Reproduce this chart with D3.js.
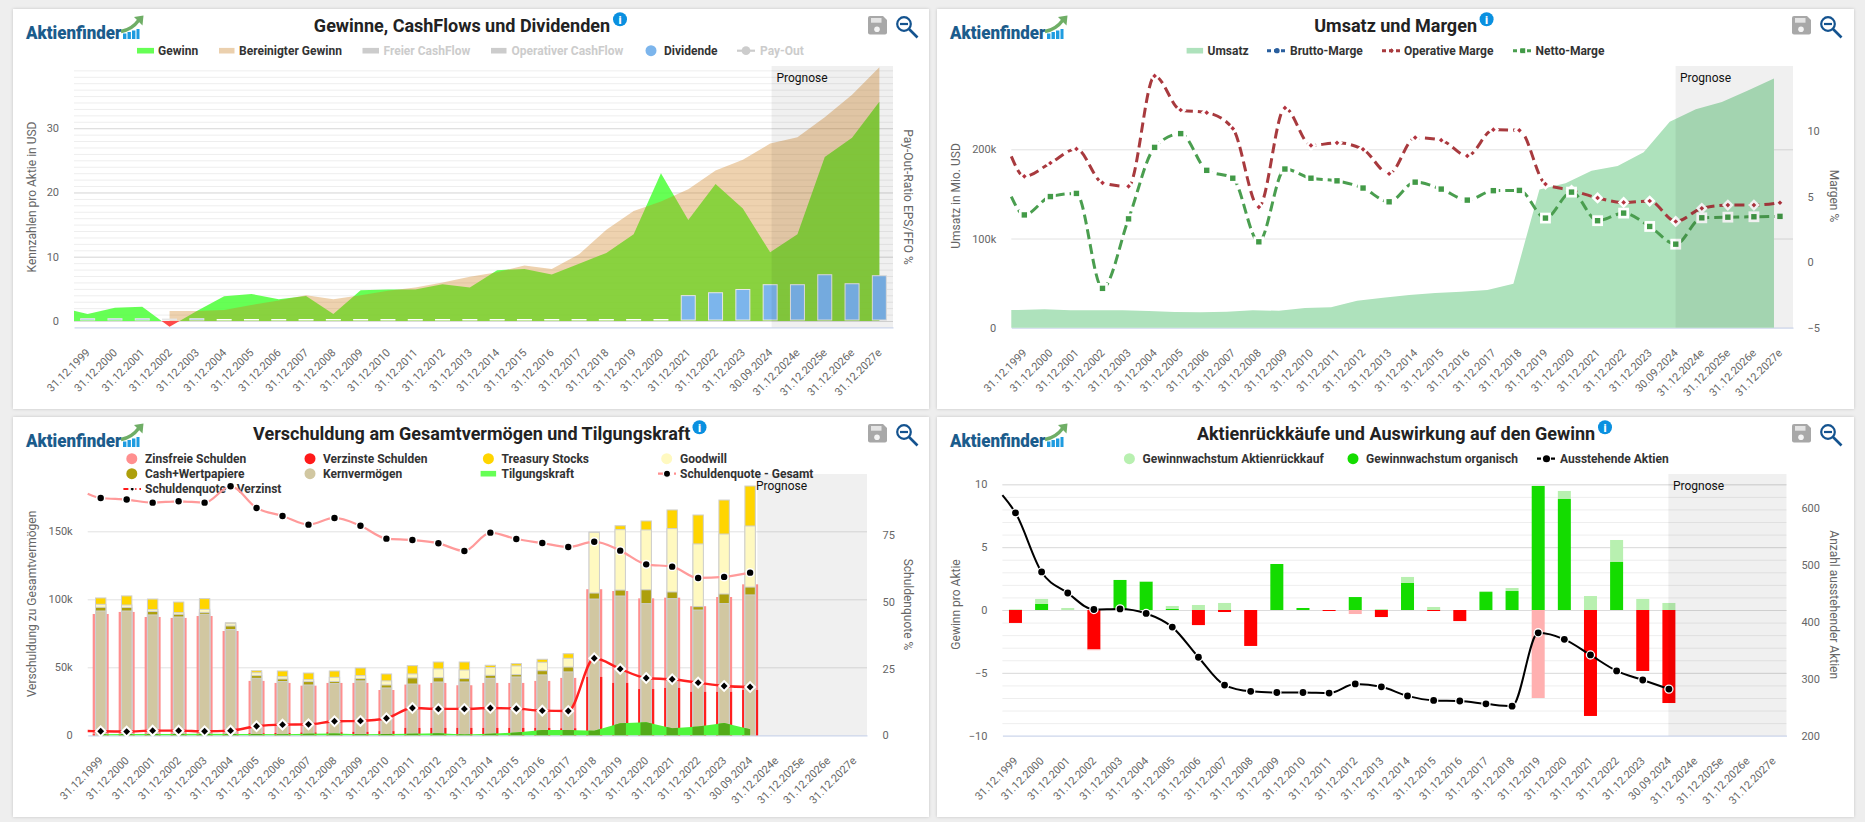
<!DOCTYPE html>
<html><head><meta charset="utf-8">
<script src="https://cdn.jsdelivr.net/npm/d3@7/dist/d3.min.js"></script>
<style>html,body{margin:0;padding:0;background:#eee;overflow:hidden}svg{display:block}text{font-family:Roboto,sans-serif}</style>
</head><body><div id="c"></div>
<script>
const categories=["31.12.1999","31.12.2000","31.12.2001","31.12.2002","31.12.2003","31.12.2004","31.12.2005","31.12.2006","31.12.2007","31.12.2008","31.12.2009","31.12.2010","31.12.2011","31.12.2012","31.12.2013","31.12.2014","31.12.2015","31.12.2016","31.12.2017","31.12.2018","31.12.2019","31.12.2020","31.12.2021","31.12.2022","31.12.2023","30.09.2024","31.12.2024e","31.12.2025e","31.12.2026e","31.12.2027e"];
// Chart 1
const gewinnStart=1.6;
const gewinn=[1.1,2.07,2.2,-0.9,1.55,3.85,4.2,3.4,3.9,1.1,4.8,4.9,4.9,5.7,5.2,7.9,8.1,7.25,8.9,10.6,13.5,23,15.7,21.3,17.5,10.7,13.5,25.5,28.5,34.1];
const bereinigt=[null,null,null,1.55,1.55,1.7,2.5,3.2,4.0,3.4,4.0,4.7,5.2,6.0,6.9,7.6,8.65,8.1,10.4,14.2,17.1,18.6,20.5,23.4,25.1,27.6,28.6,31.7,35.2,39.5];
const dividende=[0.36,0.36,0.36,0.3,0.36,0,0,0,0,0,0,0,0,0,0,0,0,0,0,0,0,0,3.95,4.4,4.9,5.65,5.65,7.2,5.8,7.05];
// Chart 2
const umsatzStart=19.8;
const umsatz=[19.8,20.6,19.5,19.5,19.5,18.7,17.6,17.2,18,19.5,19,22,22.8,30.3,33.7,36.7,38.9,40.4,42.3,49.4,155,162,176,181.4,196.8,231,245,253,266,279.5];
const operativStart=8.07;
const operativ=[6.54,7.56,8.63,6.05,5.78,14.2,11.6,11.4,10.2,4.2,11.76,8.9,9.1,8.6,6.74,9.5,9.3,8.1,10.1,10.05,5.95,5.47,4.9,4.55,4.66,3.1,4.1,4.35,4.35,4.53];
const nettoStart=5.0;
const netto=[3.6,5.0,5.24,-2,3.3,8.75,9.8,7.0,6.4,1.55,7.1,6.4,6.2,5.65,4.6,6.1,5.57,4.73,5.45,5.47,3.36,5.34,3.16,3.74,2.72,1.37,3.38,3.43,3.46,3.49];
// Chart 3
const schuldenGesamt=[89.2,90.7,87,86.3,87.7,76.7,40,38.5,36.5,38.5,38.5,33.3,37.3,38.5,36.8,38.5,38.5,40,42.2,107.4,106.1,100.7,101.2,94.9,101.7,111];
const verzinst=[0.7,0.7,1,1,0.8,1,1.5,1.7,2,2.2,2.5,3,5.4,5.4,5.4,5.4,5.4,5.4,5.1,42.9,38.5,34,34.8,31.9,31.9,33.3];
const kern=[91.4,91.4,88.5,87,89,77.7,41.9,39.5,37,38,40,34.8,37.7,39.2,39.2,41.9,42.9,44.4,46.6,100.2,102.4,96.8,100.5,92.1,96.8,103.2];
const cash=[94.1,94,91,89,90.4,80.4,43.9,41.4,39.5,39.5,41.7,37,42.2,42.4,41.7,44.1,44.6,47.5,50.2,104.6,106.8,107,105.4,94.6,103.9,109];
const goodwill=[96.3,95.8,92.4,90.2,92.6,82.1,46,43.1,40.9,42.6,43.9,40,45.1,48.8,48,49.8,51,53.7,56.6,149.2,151.2,151,152,140.7,148,153.9];
const treasury=[101,102.5,100.2,98,100.5,82.8,47.5,47.3,45.8,47.3,49.5,45.1,51.2,53.9,53.9,51.5,52.7,55.9,60,149.5,154.1,157.6,165.7,162,173,183.3];
const tilgung=[0.8,1,0.9,1,1.1,1,1,0.8,1.2,1.3,0.7,1,1.1,1.5,0.5,1.2,2,3.9,3.9,3.4,8.8,9.6,5.1,6.4,9,4.4];
const quoteGesamtStart=90.6;
const quoteGesamt=[89,88.4,87.25,87.75,87.25,93.4,85.25,82.25,79,81.5,78.6,73.75,73.25,72,69.1,76,73.6,72.1,70.6,72.6,69.25,64.1,63.25,59,59.4,61];
const quoteVerzinstStart=1.6;
const quoteVerzinst=[1.5,1.4,1.75,1.75,1.5,1.75,3.4,4,4.1,5.25,5.4,6.4,10.25,9.9,9.9,10.25,10,9.25,9.1,28.9,24.9,21.5,21,19.75,18.5,18.1];
// Chart 4
const organisch=[-1.03,0.48,0,-3.13,2.39,2.25,0.08,-1.2,-0.16,-2.86,3.66,0.16,-0.08,1.03,-0.56,2.15,-0.08,-0.88,1.43,1.51,9.87,8.83,-8.43,3.82,-4.85,-7.4];
const rueckkauf=[0.05,0.4,0.16,-0.07,0,0.05,0.24,0.4,0.56,0,0,0,0,-0.32,0.08,0.48,0.24,0,0.08,0.24,-7,0.64,1.11,1.75,0.88,0.56];
const aktienStart=623;
const aktien=[592,488,451,422,423,415,391,338,289,278,276,276,275,291,286,270,262,261,256,252,381,369.5,342,314,298,282];

const svg=d3.select("#c").append("svg").attr("width",1865).attr("height",822).style("background","#eee");
const defs=svg.append("defs");
const f=defs.append("filter").attr("id","sh").attr("x","-2%").attr("y","-2%").attr("width","104%").attr("height","104%");
f.append("feDropShadow").attr("dx",0).attr("dy",0).attr("stdDeviation",1.5).attr("flood-color","#000").attr("flood-opacity",.18);
const LABEL="#666",LEG="#333",OFF="#ccc";
const DIA=d3.symbolDiamond2||d3.symbolDiamond;

function panel(dx,dy,w,title,titleX,infoX){
  const g=svg.append("g");
  g.append("rect").attr("x",13+dx).attr("y",9+dy).attr("width",w).attr("height",400).attr("fill","#fff").attr("filter","url(#sh)");
  const l=g.append("g").attr("transform",`translate(${dx},${dy})`);
  l.append("text").attr("x",26).attr("y",39).attr("font-size",19).attr("font-weight",900).attr("fill","#1b5c8c").attr("textLength",95.5).attr("lengthAdjust","spacingAndGlyphs").text("Aktienfinder");
  [[123,33.5,3.4],[127.5,32,3.4],[132,30.5,3.4],[136.5,29,3]].forEach(b=>l.append("rect").attr("x",b[0]).attr("y",b[1]).attr("width",b[2]).attr("height",39-b[1]).attr("fill","#1f9ce0"));
  l.append("path").attr("d","M121 31.5 Q132 29.5 139 20").attr("fill","none").attr("stroke","#6fae66").attr("stroke-width",3.4);
  l.append("path").attr("d","M134 17 L143.5 15.5 L142.5 25.5 Z").attr("fill","#6fae66");
  g.append("text").attr("x",titleX).attr("y",32+dy).attr("text-anchor","middle").attr("font-size",18).attr("font-weight",700).attr("fill","#222").text(title);
  g.append("circle").attr("cx",infoX).attr("cy",19.3+dy).attr("r",7).attr("fill","#0a90e0");
  g.append("text").attr("x",infoX).attr("y",23.5+dy).attr("text-anchor","middle").attr("font-size",11).attr("font-weight",900).attr("fill","#fff").text("i");
  const ic=g.append("g").attr("transform",`translate(${dx},${dy})`);
  ic.append("path").attr("d","M868 18 a2 2 0 0 1 2-2 h13 l4 4 v12.5 a2 2 0 0 1 -2 2 h-15 a2 2 0 0 1 -2-2 z").attr("fill","#a8a8a8");
  ic.append("rect").attr("x",871).attr("y",18).attr("width",10.5).attr("height",4.7).attr("fill","#e4e4e4");
  ic.append("circle").attr("cx",877).attr("cy",29.2).attr("r",2.8).attr("fill","#f4f4f4");
  ic.append("circle").attr("cx",904).attr("cy",24).attr("r",6.8).attr("fill","none").attr("stroke","#14538f").attr("stroke-width",2.2);
  ic.append("line").attr("x1",900).attr("x2",908).attr("y1",24).attr("y2",24).attr("stroke","#14538f").attr("stroke-width",2.2);
  ic.append("line").attr("x1",909).attr("y1",29).attr("x2",917.5).attr("y2",37.5).attr("stroke","#14538f").attr("stroke-width",2.6);
  return g;
}
function leg(g,x,y,label,color){
  g.append("text").attr("x",x).attr("y",y+4.2).attr("font-size",12).attr("font-weight",700).attr("fill",color||LEG).text(label);
}
function legRect(g,x,w,y,fill){g.append("rect").attr("x",x).attr("y",y-2.8).attr("width",w).attr("height",5.6).attr("fill",fill);}
function legCirc(g,x,y,fill){g.append("circle").attr("cx",x).attr("cy",y).attr("r",5.5).attr("fill",fill);}
function legLine(g,x1,x2,y,color,sym,sc,dash,w){
  g.append("line").attr("x1",x1).attr("x2",x2).attr("y1",y).attr("y2",y).attr("stroke",color).attr("stroke-width",w||2.2).attr("stroke-dasharray",dash||null);
  g.append("path").attr("transform",`translate(${(x1+x2)/2},${y})`).attr("d",d3.symbol().type(sym).size(sc.s)()).attr("fill",sc.f).attr("stroke","#fff").attr("stroke-width",sc.w);
}
function axes(g,o){
  const {L,R,T,B,x}=o;
  const gx=g.append("g").attr("transform",`translate(0,${B})`).call(d3.axisBottom(x).tickSize(0));
  gx.select(".domain").attr("stroke","#ccd6eb").attr("stroke-width",1.2);
  gx.selectAll("text").attr("font-family","Roboto").attr("font-size",11).attr("fill",LABEL).attr("text-anchor","end").attr("x",0).attr("y",0).attr("dy",0)
    .attr("transform","translate(3,26) rotate(-45)");
}
function gridAxis(g,y,L,R,values,color){
  const a=g.append("g").attr("transform",`translate(${L},0)`).call(d3.axisLeft(y).tickValues(values).tickSize(-(R-L)).tickFormat(""));
  a.select(".domain").remove();
  a.selectAll("line").attr("stroke",color).attr("stroke-width",1);
}
function labelAxisL(g,y,L,values,fmt){
  const a=g.append("g").attr("transform",`translate(${L-15},0)`).call(d3.axisLeft(y).tickValues(values).tickSize(0).tickPadding(0).tickFormat(fmt));
  a.select(".domain").remove();a.selectAll("line").remove();
  a.selectAll("text").attr("font-family","Roboto").attr("font-size",11).attr("fill",LABEL);
}
function labelAxisR(g,y,X,values){
  const a=g.append("g").attr("transform",`translate(${X},0)`).call(d3.axisRight(y).tickValues(values).tickSize(0).tickPadding(0));
  a.select(".domain").remove();a.selectAll("line").remove();
  a.selectAll("text").attr("font-family","Roboto").attr("font-size",11).attr("fill",LABEL);
}
function axTitle(g,x,y,rot,t){
  g.append("text").attr("transform",`translate(${x},${y}) rotate(${rot})`).attr("text-anchor","middle").attr("dominant-baseline","central").attr("font-size",12).attr("fill",LABEL).text(t);
}
function band(g,x1,x2,T,B,tx,ty){
  g.append("rect").attr("x",x1).attr("y",T).attr("width",x2-x1).attr("height",B-T).attr("fill","#000").attr("fill-opacity",.06);
  g.append("text").attr("x",tx).attr("y",ty+4).attr("font-size",12).attr("fill","#111").text("Prognose");
}
function clipRect(id,x,y,w,h){defs.append("clipPath").attr("id",id).append("rect").attr("x",x).attr("y",y).attr("width",w).attr("height",h);}
function series(startX,startV,xs,vals){
  const pts=vals.map((v,i)=>({x:xs(categories[i]),v}));
  if(startV!=null)pts.unshift({x:startX,v:startV});
  return pts;
}
function centers(x){const f=c=>x(c)+x.bandwidth()/2;return f;}

/* ---------- Chart 1 ---------- */
(function(){
  const g=panel(0,0,916,"Gewinne, CashFlows und Dividenden",462,620);
  const L=74,R=893,T=66,B=327.3;
  const x=d3.scaleBand().domain(categories).range([L,R]);const cx=centers(x);
  const y=d3.scaleLinear().domain([0,30]).range([321,128.2]);
  gridAxis(g,y,L,R,d3.range(0,40),"#eeeeee");
  gridAxis(g,y,L,R,[0,10,20,30],"#dcdcdc");
  axes(g,{L,R,T,B,x});
  labelAxisL(g,y,L,[0,10,20,30],d3.format("d"));
  axTitle(g,32,197,-90,"Kennzahlen pro Aktie in USD");
  axTitle(g,907.6,197,90,"Pay-Out-Ratio EPS/FFO %");
  const pts=series(L,gewinnStart,cx,gewinn);
  const ar=d3.area().x(d=>d.x).y0(y(0)).y1(d=>y(d.v));
  clipRect("c1up",L,T-5,R-L,y(0)-T+5);clipRect("c1dn",L,y(0),R-L,30);
  g.append("path").attr("d",ar(pts)).attr("fill","#4bff37").attr("fill-opacity",.85).attr("clip-path","url(#c1up)");
  g.append("path").attr("d",ar(pts)).attr("fill","#ff4a4a").attr("clip-path","url(#c1dn)");
  const pb=bereinigt.map((v,i)=>({x:cx(categories[i]),v})).filter(d=>d.v!=null);
  g.append("path").attr("d",ar(pb)).attr("fill","rgb(204,122,20)").attr("fill-opacity",.34);
  g.append("g").selectAll("rect").data(dividende).join("rect")
    .attr("x",(d,i)=>cx(categories[i])-7).attr("width",14)
    .attr("y",d=>y(d)-(d===0?1.5:0)).attr("height",d=>Math.max(0,y(0)-1-y(d))+(d===0?0.5:0))
    .attr("fill",d=>d===0?"#fff":"#7cb5ec").attr("stroke",d=>d===0?"#fff":"#e6e6e6").attr("stroke-width",1);
  band(g,771.6,R,T,B,776.5,77.7);
  const ly=50.7;
  legRect(g,137,17,ly,"#66ff55");leg(g,158,ly,"Gewinn");
  legRect(g,219,15.5,ly,"#ebd0ae");leg(g,239,ly,"Bereinigter Gewinn");
  legRect(g,362.5,16.5,ly,OFF);leg(g,383.5,ly,"Freier CashFlow",OFF);
  legRect(g,491,15.5,ly,OFF);leg(g,511.6,ly,"Operativer CashFlow",OFF);
  legCirc(g,651,ly,"#7cb5ec");leg(g,664,ly,"Dividende");
  legLine(g,737,755,ly,OFF,d3.symbolCircle,{s:60,f:OFF,w:0});leg(g,760,ly,"Pay-Out",OFF);
})();

/* ---------- Chart 2 ---------- */
(function(){
  const g=panel(924,0,917,"Umsatz und Margen",1395.6,1486.6);
  const L=1011.3,R=1793,T=66,B=327.7;
  const x=d3.scaleBand().domain(categories).range([L,R]);const cx=centers(x);
  const y=d3.scaleLinear().domain([0,200]).range([327.7,149.3]);
  const yr=d3.scaleLinear().domain([-5,10]).range([327.7,131]);
  gridAxis(g,y,L,R,[100,200],"#e2e2e2");
  axes(g,{L,R,T,B,x});
  labelAxisL(g,y,L,[0,100,200],d=>d?d+"k":"0");
  labelAxisR(g,yr,1807.4,[-5,0,5,10]);
  axTitle(g,956,196,-90,"Umsatz in Mio. USD");
  axTitle(g,1834,196,90,"Margen %");
  const off=-6;
  const pu=[{x:L,v:umsatzStart}].concat(umsatz.map((v,i)=>({x:cx(categories[i])+off,v})));
  g.append("path").attr("d",d3.area().x(d=>d.x).y0(y(0)).y1(d=>y(d.v))(pu)).attr("fill","#aee2bc");
  const ln=d3.line().x(d=>d.x).y(d=>yr(d.v)).curve(d3.curveMonotoneX);
  const po=series(L,operativStart,cx,operativ),pn=series(L,nettoStart,cx,netto);
  g.append("path").attr("d",ln(pn)).attr("fill","none").attr("stroke","#4a9e4f").attr("stroke-width",3).attr("stroke-dasharray","10,5");
  g.append("path").attr("d",ln(po)).attr("fill","none").attr("stroke","#a83a3e").attr("stroke-width",3).attr("stroke-dasharray","10,5");
  g.append("g").selectAll("path").data(operativ).join("path").attr("transform",(d,i)=>`translate(${cx(categories[i])},${yr(d)})`)
    .attr("d",d3.symbol().type(DIA).size(14)()).attr("fill","#b3333f").attr("stroke","#fff").attr("stroke-width",5).attr("paint-order","stroke");
  g.append("g").selectAll("rect").data(netto).join("rect").attr("x",(d,i)=>cx(categories[i])-2.7).attr("y",d=>yr(d)-2.7).attr("width",5.4).attr("height",5.4)
    .attr("fill","#429a47").attr("stroke","#fff").attr("stroke-width",5.4).attr("paint-order","stroke");
  band(g,1675.6,R,T,B,1680,77.7);
  const ly=50.7;
  legRect(g,1186.6,16.5,ly,"#aee2bc");leg(g,1207.5,ly,"Umsatz");
  legLine(g,1267,1287,ly,"#2a5f9e",d3.symbolCircle,{s:22,f:"#2a5f9e",w:0},"4,3",3);leg(g,1290,ly,"Brutto-Marge");
  legLine(g,1382,1401,ly,"#a83a3e",DIA,{s:14,f:"#a83a3e",w:0},"4,3",3);leg(g,1404,ly,"Operative Marge");
  legLine(g,1513,1532.5,ly,"#4a9e4f",d3.symbolSquare,{s:24,f:"#429a47",w:0},"4,3",3);leg(g,1535.5,ly,"Netto-Marge");
})();

/* ---------- Chart 3 ---------- */
(function(){
  const g=panel(0,408,916,"Verschuldung am Gesamtvermögen und Tilgungskraft",471.7,699.5);
  const L=87.7,R=867,T=474,B=735.3;
  const x=d3.scaleBand().domain(categories).range([L,R]);const cx=centers(x);
  const y=d3.scaleLinear().domain([0,150]).range([735.3,531.3]);
  const yr=d3.scaleLinear().domain([0,75]).range([735.3,535.3]);
  gridAxis(g,y,L,R,[50,100,150],"#e2e2e2");
  axes(g,{L,R,T,B,x});
  labelAxisL(g,y,L,[0,50,100,150],d=>d?d+"k":"0");
  labelAxisR(g,yr,882.5,[0,25,50,75]);
  axTitle(g,32,604,-90,"Verschuldung zu Gesamtvermögen");
  axTitle(g,907.6,604.5,90,"Schuldenquote %");
  const rows=[458.7,473.7,489];
  legCirc(g,131.8,rows[0],"#ff8f8f");leg(g,145,rows[0],"Zinsfreie Schulden");
  legCirc(g,310,rows[0],"#ff1a1a");leg(g,323,rows[0],"Verzinste Schulden");
  legCirc(g,488.4,rows[0],"#ffd500");leg(g,501.5,rows[0],"Treasury Stocks");
  legCirc(g,666.7,rows[0],"#fff9c0");leg(g,680,rows[0],"Goodwill");
  legCirc(g,131.8,rows[1],"#ad9f0b");leg(g,145,rows[1],"Cash+Wertpapiere");
  legCirc(g,310,rows[1],"#d1c7a1");leg(g,323,rows[1],"Kernvermögen");
  legRect(g,480.6,15.5,rows[1],"#66ff55");leg(g,501.5,rows[1],"Tilgungskraft");
  legLine(g,658,676,rows[1],"#ff8f8f",d3.symbolCircle,{s:40,f:"#000",w:1.2},"5,3");leg(g,680,rows[1],"Schuldenquote - Gesamt");
  legLine(g,123.4,141,rows[2],"#ff1a1a",DIA,{s:18,f:"#000",w:1.2},"5,3");leg(g,145,rows[2],"Schuldenquote - Verzinst");
  const wide=16,nar=10.4;
  const bars=g.append("g");
  bars.selectAll(".p").data(schuldenGesamt).join("rect").attr("x",(d,i)=>cx(categories[i])-wide/2).attr("width",wide).attr("y",d=>y(d)).attr("height",d=>y(0)-y(d)).attr("fill","#ff8f8f");
  bars.selectAll(".r").data(verzinst).join("rect").attr("x",(d,i)=>cx(categories[i])-wide/2).attr("width",wide).attr("y",d=>y(d)).attr("height",d=>y(0)-y(d)).attr("fill","#ff1f1f");
  const stack=[[treasury,"#ffd500"],[goodwill,"#fff9c0"],[cash,"#ad9f0b"],[kern,"#d1c7a1"]];
  stack.forEach(s=>{
    bars.append("g").selectAll("rect").data(s[0]).join("rect").attr("x",(d,i)=>cx(categories[i])-nar/2).attr("width",nar).attr("y",d=>y(d)).attr("height",d=>y(0)-y(d)).attr("fill",s[1]).attr("stroke","#cfcfcf").attr("stroke-width",1);
  });
  const pt=tilgung.map((v,i)=>({x:cx(categories[i]),v}));
  const aT=d3.area().x(d=>d.x).y0(y(0)).y1(d=>y(d.v))(pt);
  g.append("path").attr("d",aT).attr("fill","#50f63c");
  defs.append("clipPath").attr("id","c3t").append("path").attr("d",aT);
  g.append("g").attr("clip-path","url(#c3t)").selectAll("rect").data(kern).join("rect").attr("x",(d,i)=>cx(categories[i])-nar/2-.5).attr("width",nar+1).attr("y",d=>y(d)).attr("height",d=>y(0)-y(d)).attr("fill","#52ab1a");
  const ln=d3.line().x(d=>d.x).y(d=>yr(d.v)).curve(d3.curveMonotoneX);
  g.append("path").attr("d",ln(series(L,quoteGesamtStart,cx,quoteGesamt))).attr("fill","none").attr("stroke","#ff9a9a").attr("stroke-width",2.2);
  g.append("path").attr("d",ln(series(L,quoteVerzinstStart,cx,quoteVerzinst))).attr("fill","none").attr("stroke","#ff1f1f").attr("stroke-width",2.4);
  g.append("g").selectAll("circle").data(quoteGesamt).join("circle").attr("cx",(d,i)=>cx(categories[i])).attr("cy",d=>yr(d)).attr("r",3.2).attr("fill","#000").attr("stroke","#fff").attr("stroke-width",3).attr("paint-order","stroke");
  g.append("g").selectAll("path").data(quoteVerzinst).join("path").attr("transform",(d,i)=>`translate(${cx(categories[i])},${yr(d)})`)
    .attr("d",d3.symbol().type(DIA).size(30)()).attr("fill","#000").attr("stroke","#fff").attr("stroke-width",4).attr("paint-order","stroke");
  band(g,757.3,R,T,B,756,486);
})();

/* ---------- Chart 4 ---------- */
(function(){
  const g=panel(924,408,917,"Aktienrückkäufe und Auswirkung auf den Gewinn",1396,1605);
  const L=1002.4,R=1786.5,T=474,B=735.7;
  const x=d3.scaleBand().domain(categories).range([L,R]);const cx=centers(x);
  const y=d3.scaleLinear().domain([-10,10]).range([735.7,484.3]);
  const yr=d3.scaleLinear().domain([200,600]).range([735.7,508.3]);
  gridAxis(g,y,L,R,d3.range(-9,11),"#eeeeee");
  gridAxis(g,y,L,R,[-5,0,5,10],"#dcdcdc");
  axes(g,{L,R,T,B,x});
  labelAxisL(g,y,L,[-10,-5,0,5,10],d3.format("d"));
  labelAxisR(g,yr,1801.4,[200,300,400,500,600]);
  axTitle(g,956,604.5,-90,"Gewinn pro Aktie");
  axTitle(g,1833.6,604.7,90,"Anzahl ausstehender Aktien");
  const w=13;
  const bars=g.append("g");
  organisch.forEach((o,i)=>{
    const r=rueckkauf[i],xc=cx(categories[i])-w/2;
    let pos=0,neg=0;
    [[o,"#14dc00","#ff0000"],[r,"#b8f0b0","#ffb0b0"]].forEach(s=>{
      const v=s[0];if(!v)return;
      if(v>0){bars.append("rect").attr("x",xc).attr("width",w).attr("y",y(pos+v)).attr("height",y(pos)-y(pos+v)).attr("fill",s[1]);pos+=v;}
      else{bars.append("rect").attr("x",xc).attr("width",w).attr("y",y(neg)).attr("height",y(neg+v)-y(neg)).attr("fill",s[2]);neg+=v;}
    });
  });
  const pa=series(L,aktienStart,cx,aktien);
  g.append("path").attr("d",d3.line().x(d=>d.x).y(d=>yr(d.v)).curve(d3.curveMonotoneX)(pa)).attr("fill","none").attr("stroke","#000").attr("stroke-width",2);
  g.append("g").selectAll("circle").data(aktien).join("circle").attr("cx",(d,i)=>cx(categories[i])).attr("cy",d=>yr(d)).attr("r",3.4).attr("fill","#000").attr("stroke","#fff").attr("stroke-width",2.6).attr("paint-order","stroke");
  band(g,1668.4,R,T,B,1673,486);
  const ly=458.7;
  legCirc(g,1129.4,ly,"#b8f0b0");leg(g,1142.5,ly,"Gewinnwachstum Aktienrückkauf");
  legCirc(g,1353,ly,"#14dc00");leg(g,1366,ly,"Gewinnwachstum organisch");
  legLine(g,1537,1556,ly,"#000",d3.symbolCircle,{s:40,f:"#000",w:0},"4,3");leg(g,1560,ly,"Ausstehende Aktien");
})();
</script></body></html>
